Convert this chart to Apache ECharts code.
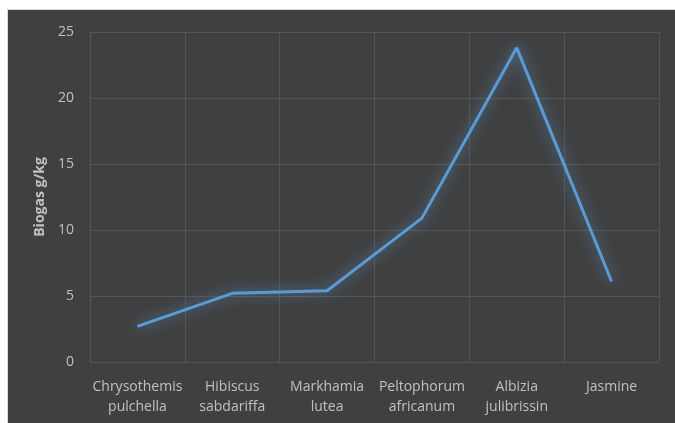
<!DOCTYPE html>
<html>
<head>
<meta charset="utf-8">
<script src="https://cdn.jsdelivr.net/npm/echarts@6/dist/echarts.min.js"></script>
<style>
html,body{margin:0;padding:0;background:#ffffff;}
#frame{position:absolute;left:7px;top:9px;width:668px;height:414px;background:#404040;border-left:1px solid #d9d9d9;border-top:1px solid #d9d9d9;}
#chart{position:absolute;left:0;top:0;width:675px;height:423px;}
</style>
</head>
<body>
<div id="frame"></div>
<div id="chart"></div>
<script>
const categories = ["Chrysothemis\npulchella", "Hibiscus\nsabdariffa", "Markhamia\nlutea", "Peltophorum\nafricanum", "Albizia\njulibrissin", "Jasmine"];
const biogas = [2.7, 5.2, 5.4, 10.9, 23.8, 6.1];
const yTicks = { min: 0, max: 25, interval: 5 };
const yName = "Biogas g/kg";

const chart = echarts.init(document.getElementById('chart'));
chart.setOption({
  backgroundColor: 'transparent',
  animation: false,
  grid: { left: 90, right: 16, top: 32, bottom: 61 },
  xAxis: {
    type: 'category',
    data: categories,
    boundaryGap: true,
    axisLine: { show: false },
    axisTick: { show: false },
    axisLabel: { color: '#c0c0c0', fontFamily: 'Open Sans', fontSize: 14, lineHeight: 20, margin: 15, interval: 0 },
    splitLine: { show: true, interval: 0, lineStyle: { color: '#555555', width: 1 } }
  },
  yAxis: {
    type: 'value',
    min: yTicks.min, max: yTicks.max, interval: yTicks.interval,
    name: yName,
    nameLocation: 'middle',
    nameRotate: 90,
    nameGap: 38,
    nameTextStyle: { color: '#c0c0c0', fontFamily: 'Open Sans', fontSize: 14, fontWeight: 'bold' },
    axisLine: { show: false },
    axisTick: { show: false },
    axisLabel: { color: '#c0c0c0', fontFamily: 'Open Sans', fontSize: 14, margin: 16 },
    splitLine: { show: true, lineStyle: { color: '#555555', width: 1 } }
  },
  series: [{
    type: 'line',
    data: biogas,
    symbol: 'none',
    lineStyle: { color: '#5b9bd5', width: 3, shadowColor: 'rgba(91,155,213,0.9)', shadowBlur: 14 },
    itemStyle: { color: '#5b9bd5' }
  }]
});
</script>
</body>
</html>
